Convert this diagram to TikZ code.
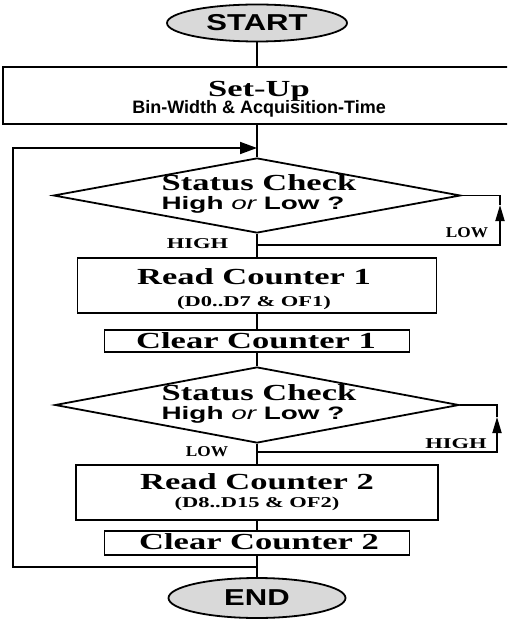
\documentclass[tikz,border=0pt]{standalone}
\usepackage{fontspec}
\setmainfont{Liberation Serif}
\newfontfamily\serifw[FakeStretch=1.5]{Liberation Serif}
\newfontfamily\serifn[FakeStretch=1.15]{Liberation Serif}
\newfontfamily\sansw[FakeStretch=1.55]{Liberation Sans}
\newfontfamily\sanst[FakeStretch=1.35]{Liberation Sans}
\newfontfamily\sanss{Liberation Sans}
\usetikzlibrary{shapes.geometric,arrows.meta}
\begin{document}
\begin{tikzpicture}[x=1pt,y=-1pt,
  line width=1.8pt,
  box/.style={draw, rectangle, inner sep=0pt},
  dia/.style={draw, diamond, inner sep=0pt},
  term/.style={draw, ellipse, fill=gray!30, inner sep=0pt,
    font=\sanst\bfseries\fontsize{23}{23}\selectfont},
  big/.style={font=\serifw\bfseries\fontsize{23}{23}\selectfont, inner sep=0pt, anchor=base},
  small/.style={font=\serifw\bfseries\fontsize{15}{15}\selectfont, inner sep=0pt, anchor=base},
  sub/.style={font=\sansw\bfseries\fontsize{18}{18}\selectfont, inner sep=0pt, anchor=base},
  subn/.style={font=\sanss\bfseries\fontsize{18}{18}\selectfont, inner sep=0pt, anchor=base},
  labh/.style={font=\serifw\bfseries\fontsize{15}{15}\selectfont, inner sep=0pt},
  labl/.style={font=\serifn\bfseries\fontsize{15}{15}\selectfont, inner sep=0pt},
  arr/.style={-{Triangle[length=17pt,width=12pt]}},
  arrs/.style={-{Triangle[length=16pt,width=9pt]}},
]
\clip (0,0) rectangle (507,620);
\fill[white] (0,0) rectangle (507,620);

% terminals
\node[term, minimum width=180pt, minimum height=37pt] (start) at (257,23) {START};
\node[term, minimum width=177pt, minimum height=40pt] (end) at (257,598) {END};

% set-up box
\node[box, minimum width=530pt, minimum height=57pt] (setup) at (268,95.5) {};
\node[big] (setupa) at (259,97) {Set-Up};
\node[subn] (setupb) at (259,114) {Bin-Width \& Acquisition-Time};

% decision 1
\node[dia, minimum width=407pt, minimum height=75pt] (d1) at (257,195.5) {};
\node[big] (d1a) at (259,191) {Status Check};
\node[sub] (d1b) at (253,210) {High {\mdseries\itshape or} Low ?};

% read / clear 1
\node[box, minimum width=359pt, minimum height=55pt] (rc1) at (257,285.5) {};
\node[big] (rc1a) at (254,284) {Read Counter 1};
\node[small] (rc1b) at (254,306) {(D0..D7 \& OF1)};
\node[box, minimum width=305pt, minimum height=22pt] (cc1) at (257,341) {};
\node[big] (cc1a) at (256,348.5) {Clear Counter 1};

% decision 2
\node[dia, minimum width=404pt, minimum height=76pt] (d2) at (257,405) {};
\node[big] (d2a) at (259,400) {Status Check};
\node[sub] (d2b) at (253,419) {High {\mdseries\itshape or} Low ?};

% read / clear 2
\node[box, minimum width=362pt, minimum height=55pt] (rc2) at (257,492.5) {};
\node[big] (rc2a) at (257,489) {Read Counter 2};
\node[small] (rc2b) at (257,507) {(D8..D15 \& OF2)};
\node[box, minimum width=305pt, minimum height=24pt] (cc2) at (257,543) {};
\node[big] (cc2a) at (259,549.5) {Clear Counter 2};

% labels
\node[labh] (high1) at (197.5,244) {HIGH};
\node[labl] (low1) at (467,233) {LOW};
\node[labl] (low2) at (207,452) {LOW};
\node[labh] (high2) at (456,444) {HIGH};

% coordinates
\coordinate (j1) at (257,245);
\coordinate (r1b) at (500,245);
\coordinate (r1m) at (500,205);
\coordinate (j2) at (257,452);
\coordinate (r2b) at (497,452);
\coordinate (r2m) at (497,417);
\coordinate (j3) at (257,567);
\coordinate (lb) at (13,567);
\coordinate (lt) at (13,148);

% main connectors
\draw (start) -- (start.south |- setup.north);
\draw (d1.north |- setup.south) -- (d1);
\draw (d1) -- (rc1);
\draw (rc1) -- (cc1);
\draw (cc1) -- (d2);
\draw (d2) -- (rc2);
\draw (rc2) -- (cc2);
\draw (cc2) -- (end);

% wait loops
\draw[arrs] (j1) -- (r1b) -- (r1m);
\draw (r1m) -- (d1.east -| r1m) -- (d1.east);
\draw[arrs] (j2) -- (r2b) -- (r2m);
\draw (r2m) -- (d2.east -| r2m) -- (d2.east);

% repeat loop
\draw[arr] (j3) -- (lb) -- (lt) -- (d1.north |- lt);
\end{tikzpicture}
\end{document}
